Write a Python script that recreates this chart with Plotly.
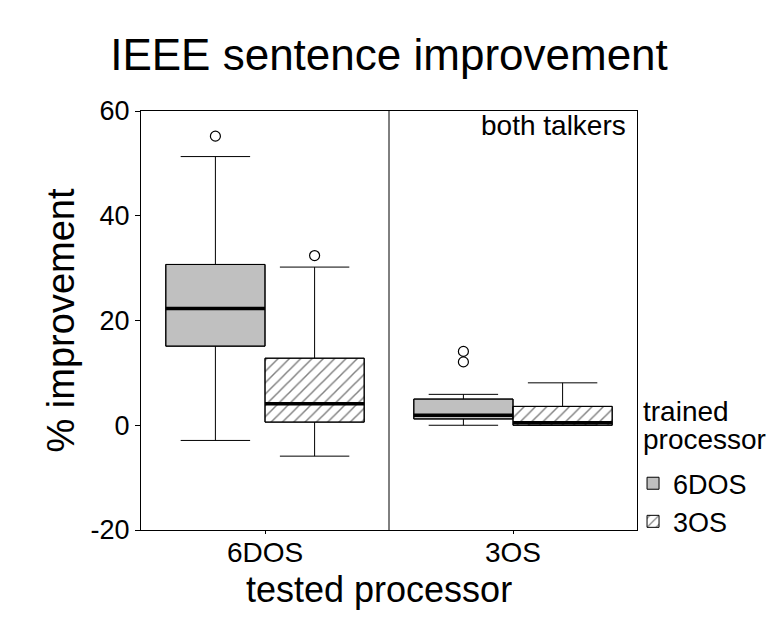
import plotly.graph_objects as go

# ---- data ----
tested = ["6DOS", "3OS"]          # x categories (tested processor)
trained = ["6DOS", "3OS"]         # series (trained processor)

# trained 6DOS (grey boxes), one value per tested processor
lower_6 = [-2.9, 0.0]
q1_6 = [15.1, 1.2]
median_6 = [22.3, 1.9]
q3_6 = [30.7, 5.0]
upper_6 = [51.3, 5.9]
outliers_6 = [[55.2], [14.1, 12.1]]

# trained 3OS (hatched boxes)
lower_3 = [-5.9, 0.0]
q1_3 = [0.6, 0.0]
median_3 = [4.1, 0.5]
q3_3 = [12.8, 3.6]
upper_3 = [30.2, 8.1]
outliers_3 = [[32.4], []]

y_ticks = [-20, 0, 20, 40, 60]
y_tick_text = ["-20", "0", "20", "40", "60"]

# ---- styling / layout ----
FONT = "Liberation Sans, Arial, sans-serif"
BOX_W = 0.4
offset = {"6DOS": -0.2, "3OS": 0.2}
series = {
    "6DOS": dict(lower=lower_6, q1=q1_6, med=median_6, q3=q3_6, up=upper_6,
                 out=outliers_6, fill="#c0c0c0", pattern=None),
    "3OS": dict(lower=lower_3, q1=q1_3, med=median_3, q3=q3_3, up=upper_3,
                out=outliers_3, fill="white", pattern="/"),
}

fig = go.Figure()

# box bodies as bars (supports hatch pattern and legend swatches)
for name in trained:
    s = series[name]
    xs = [i + offset[name] for i in range(len(tested))]
    marker = dict(color=s["fill"], line=dict(color="black", width=1))
    if s["pattern"]:
        marker["pattern"] = dict(shape=s["pattern"], fgcolor="black", bgcolor="white",
                                 size=8, solidity=0.18, fillmode="overlay")
    fig.add_trace(go.Bar(
        x=xs, base=s["q1"], y=[b - a for a, b in zip(s["q1"], s["q3"])],
        width=BOX_W, marker=marker, name=name, showlegend=True,
        hoverinfo="skip"))

# whiskers / outlines from precomputed box statistics
for name in trained:
    s = series[name]
    xs = [i + offset[name] for i in range(len(tested))]
    fig.add_trace(go.Box(
        x=xs, q1=s["q1"], median=s["med"], q3=s["q3"],
        lowerfence=s["lower"], upperfence=s["up"],
        width=BOX_W, whiskerwidth=0.7, boxpoints=False,
        fillcolor="rgba(0,0,0,0)", line=dict(color="black", width=1),
        showlegend=False, name=name))

# thick median lines
for name in trained:
    s = series[name]
    mx, my = [], []
    for i, m in enumerate(s["med"]):
        c = i + offset[name]
        mx += [c - BOX_W / 2, c + BOX_W / 2, None]
        my += [m, m, None]
    fig.add_trace(go.Scatter(x=mx, y=my, mode="lines",
                             line=dict(color="black", width=3.5),
                             showlegend=False, hoverinfo="skip"))

# outliers
for name in trained:
    s = series[name]
    ox, oy = [], []
    for i, vals in enumerate(s["out"]):
        for v in vals:
            ox.append(i + offset[name])
            oy.append(v)
    fig.add_trace(go.Scatter(x=ox, y=oy, mode="markers",
                             marker=dict(symbol="circle", size=10, color="white",
                                         line=dict(color="black", width=1.2)),
                             showlegend=False))

# divider between the tested-processor groups
fig.add_shape(type="line", xref="x", yref="paper", x0=0.5, x1=0.5, y0=0, y1=1,
              line=dict(color="black", width=1))

fig.add_annotation(text="both talkers", xref="paper", yref="paper", x=0.982, y=1.008,
                   xanchor="right", yanchor="top", showarrow=False,
                   font=dict(size=28, color="black", family=FONT))

# x axis title
fig.add_annotation(text="tested processor", xref="paper", yref="paper", x=0.48, y=-0.143,
                   xanchor="center", yanchor="middle", showarrow=False,
                   font=dict(size=36, color="black", family=FONT))

# legend title lines
fig.add_annotation(text="trained", xref="paper", yref="paper", x=1.008, y=0.284,
                   xanchor="left", yanchor="middle", showarrow=False,
                   font=dict(size=28, color="black", family=FONT))
fig.add_annotation(text="processor", xref="paper", yref="paper", x=1.008, y=0.217,
                   xanchor="left", yanchor="middle", showarrow=False,
                   font=dict(size=28, color="black", family=FONT))

fig.update_layout(
    width=776, height=618,
    margin=dict(l=133, r=147, t=103, b=96),
    paper_bgcolor="white", plot_bgcolor="white",
    barmode="overlay", boxmode="overlay",
    font=dict(family=FONT, color="black", size=26),
    title=dict(text="IEEE sentence improvement", x=0.5, xref="paper",
               y=0.925, yanchor="middle", font=dict(size=44, family=FONT, color="black")),
    xaxis=dict(range=[-0.5, 1.5], tickvals=list(range(len(tested))), ticktext=tested,
               showline=True, linecolor="black", linewidth=1, mirror=True,
               ticks="outside", ticklen=3, tickcolor="black", showgrid=False, zeroline=False,
               tickfont=dict(size=28), ticklabelstandoff=-6),
    yaxis=dict(range=[-20, 60], tickvals=y_ticks, ticktext=y_tick_text,
               showline=True, linecolor="black", linewidth=1, mirror=True,
               ticks="outside", ticklen=5, tickcolor="black", showgrid=False, zeroline=False,
               tickfont=dict(size=27),
               title=dict(text="% improvement", font=dict(size=38), standoff=4)),
    legend=dict(x=0.992, xanchor="left", y=0.169, yanchor="top",
                font=dict(size=27), bgcolor="rgba(0,0,0,0)", tracegroupgap=0,
                itemwidth=30),
)

fig.write_html("out.html")
